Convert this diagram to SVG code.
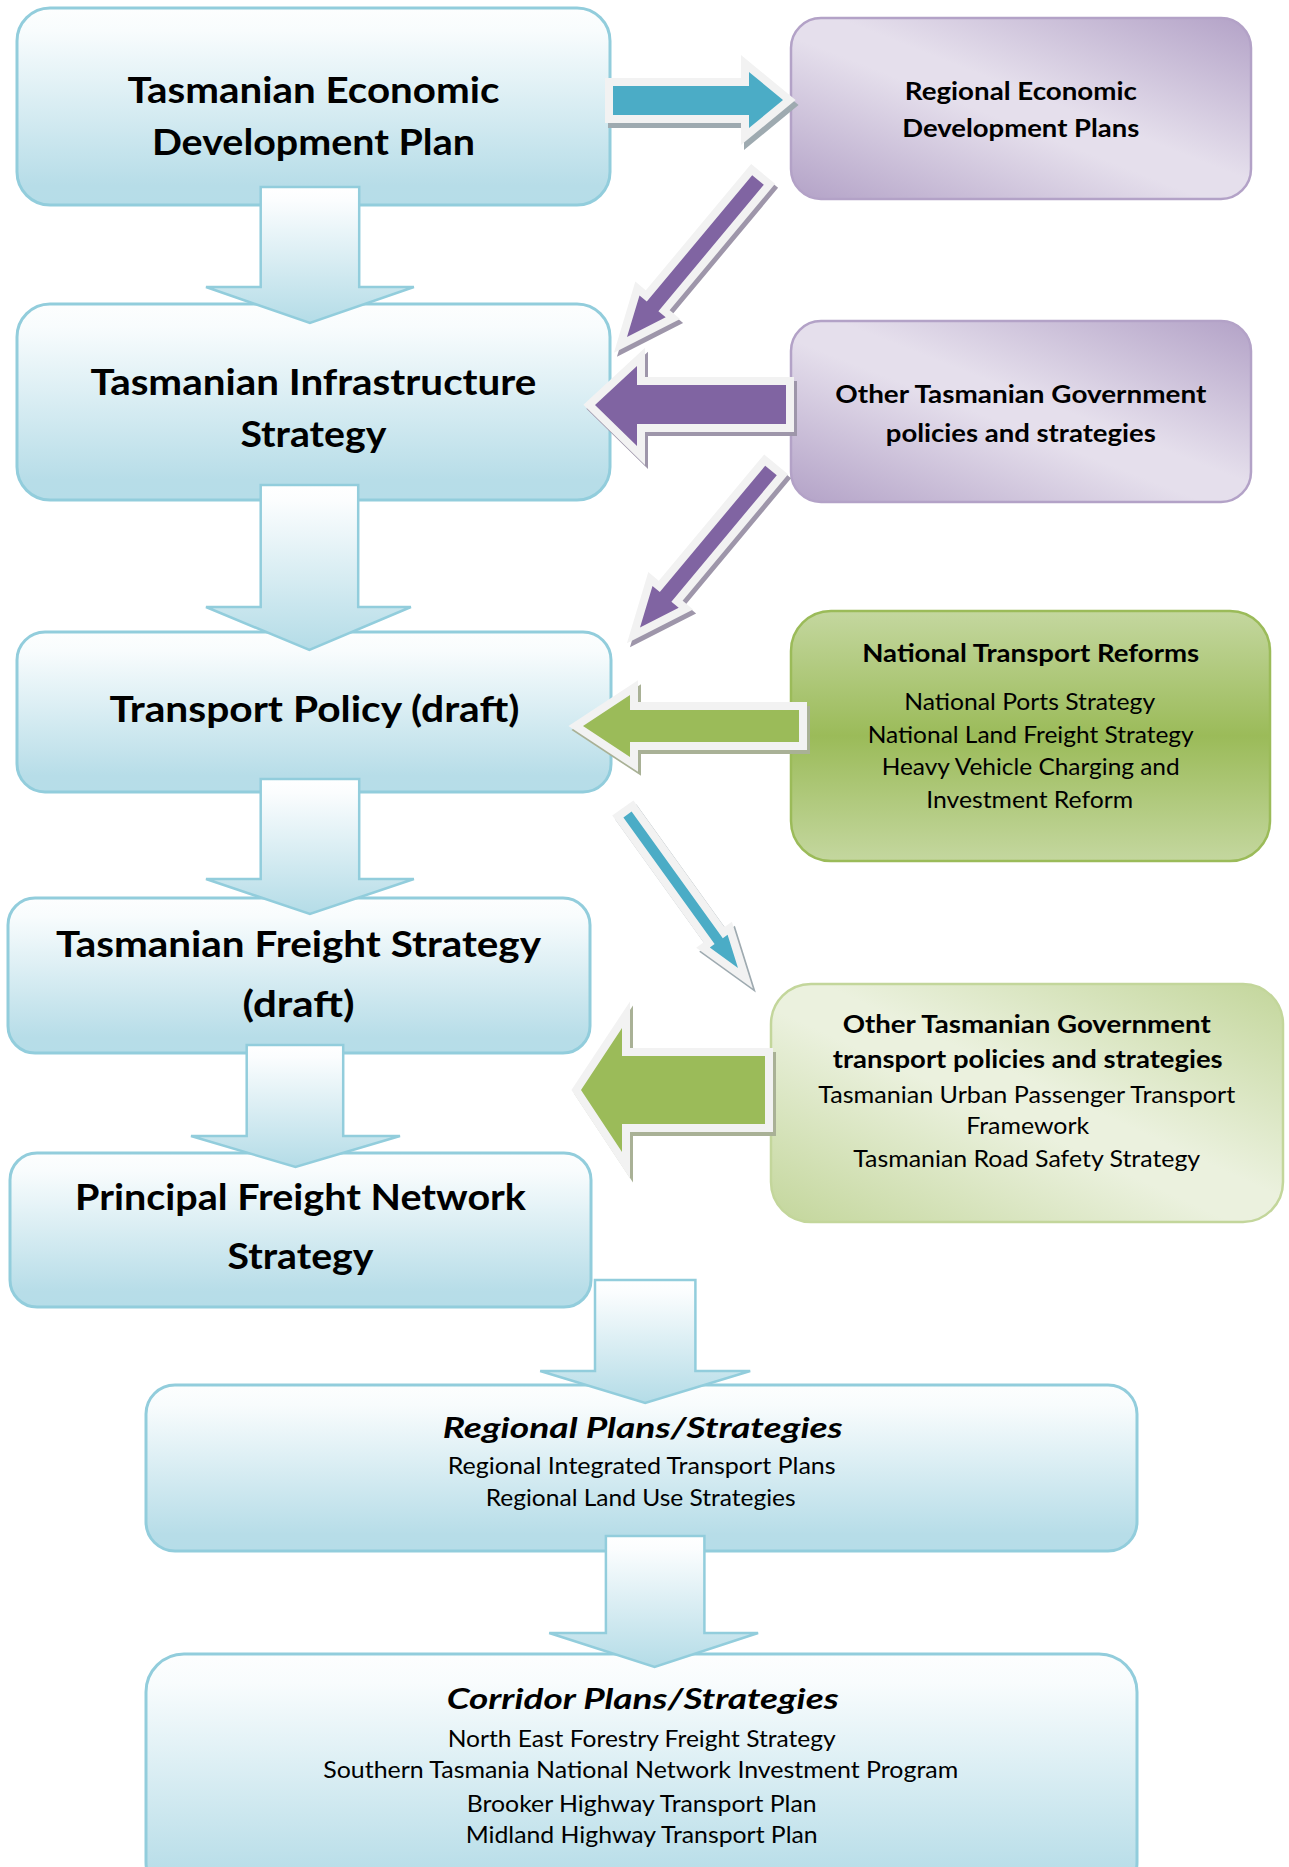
<svg xmlns="http://www.w3.org/2000/svg" width="1289" height="1867" viewBox="0 0 1289 1867">
<style>
.t{font-family:Lato,"Liberation Sans",sans-serif;fill:#000;text-anchor:middle}
.h1{font-size:36px;font-weight:bold}
.h2{font-size:25px;font-weight:bold}
.h3{font-size:28px;font-weight:bold;font-style:italic}
.h4{font-size:24px;font-weight:bold}
.r{font-size:23px}
.nb{fill:url(#gBlue);stroke:#92cddc;stroke-width:3}
.np{fill:url(#gPurple);stroke:#b3a2c7;stroke-width:2.5}
.ng1{fill:url(#gGreen1);stroke:#9bbb59;stroke-width:2.5}
.ng2{fill:url(#gGreen2);stroke:#c3d69b;stroke-width:2.5}
.da{fill:url(#gArrow);stroke:#92cddc;stroke-width:2.5}
.a3{stroke:#f2f2f2;stroke-width:16;stroke-linejoin:miter;paint-order:stroke}
.sh{stroke-width:16;stroke-linejoin:miter}
.teal{fill:#4bacc6}.purple{fill:#8064a2}.green{fill:#9bbb59}
.shT{fill:#9eaab0;stroke:#9eaab0}.shP{fill:#9e96aa;stroke:#9e96aa}.shG{fill:#a9b196;stroke:#a9b196}
</style>
<defs>
<linearGradient id="gBlue" x1="0" y1="0" x2="0" y2="1">
<stop offset="0" stop-color="#fdfefe"/><stop offset="0.12" stop-color="#f8fcfd"/><stop offset="0.9" stop-color="#b7dde8"/><stop offset="1" stop-color="#b6dde8"/>
</linearGradient>
<linearGradient id="gArrow" x1="0" y1="0" x2="0" y2="1">
<stop offset="0" stop-color="#ffffff"/><stop offset="0.1" stop-color="#fbfdfe"/><stop offset="1" stop-color="#b4dce7"/>
</linearGradient>
<linearGradient id="gPurple" x1="1" y1="0" x2="0" y2="1">
<stop offset="0" stop-color="#b3a2c7"/><stop offset="0.45" stop-color="#e5dfec"/><stop offset="0.55" stop-color="#e5dfec"/><stop offset="1" stop-color="#b3a2c7"/>
</linearGradient>
<linearGradient id="gGreen1" x1="0" y1="0" x2="0" y2="1">
<stop offset="0" stop-color="#c4d79f"/><stop offset="0.5" stop-color="#9bbb59"/><stop offset="1" stop-color="#c4d79f"/>
</linearGradient>
<linearGradient id="gGreen2" x1="1" y1="0" x2="0" y2="1">
<stop offset="0" stop-color="#c3d69b"/><stop offset="0.45" stop-color="#ebf1de"/><stop offset="0.55" stop-color="#ebf1de"/><stop offset="1" stop-color="#c3d69b"/>
</linearGradient>
<polygon id="pT1" points="613,86 749,86 749,72 783,100 749,128 749,115 613,115"/>
<polygon id="pD1" points="752.2,175.2 646.8,301.6 639.5,295.5 627,337.1 665.7,317.3 658.4,311.2 763.8,184.8"/>
<polygon id="pH1" points="786,385 637,385 637,366 595,405 637,446 637,424 786,424"/>
<polygon id="pG1" points="799,710 630,710 630,695 583,726 630,757 630,742 799,742"/>
<polygon id="pTD" points="623.4,817.4 714.6,944.1 709.8,947.6 738,968 727.6,934.8 722.8,938.3 631.6,811.6"/>
<polygon id="pG2" points="765,1056 622,1056 622,1028 581,1090 622,1152 622,1124 765,1124"/>
</defs>
<rect width="1289" height="1867" fill="#ffffff"/>

<g id="node-tedp">
<rect class="nb" x="17" y="8" width="593" height="197" rx="33"/>
<text class="t h1" x="313.4" y="103" textLength="372" lengthAdjust="spacingAndGlyphs">Tasmanian Economic</text>
<text class="t h1" x="313.4" y="155" textLength="323" lengthAdjust="spacingAndGlyphs">Development Plan</text>
</g>
<g id="node-tis">
<rect class="nb" x="17" y="304" width="593" height="196" rx="33"/>
<text class="t h1" x="313.4" y="395" textLength="446" lengthAdjust="spacingAndGlyphs">Tasmanian Infrastructure</text>
<text class="t h1" x="313.4" y="447" textLength="146" lengthAdjust="spacingAndGlyphs">Strategy</text>
</g>
<g id="node-tp">
<rect class="nb" x="17" y="632" width="594" height="160" rx="28"/>
<text class="t h1" x="314.4" y="722" textLength="410" lengthAdjust="spacingAndGlyphs">Transport Policy (draft)</text>
</g>
<g id="node-tfs">
<rect class="nb" x="8" y="898" width="582" height="155" rx="27"/>
<text class="t h1" x="298.5" y="957" textLength="485" lengthAdjust="spacingAndGlyphs">Tasmanian Freight Strategy</text>
<text class="t h1" x="298.5" y="1017" textLength="112" lengthAdjust="spacingAndGlyphs">(draft)</text>
</g>
<g id="node-pfns">
<rect class="nb" x="10" y="1153" width="581" height="154" rx="27"/>
<text class="t h1" x="300.5" y="1210" textLength="451" lengthAdjust="spacingAndGlyphs">Principal Freight Network</text>
<text class="t h1" x="300.5" y="1269" textLength="146" lengthAdjust="spacingAndGlyphs">Strategy</text>
</g>
<g id="node-regional">
<rect class="nb" x="146" y="1385" width="991" height="166" rx="29"/>
<text class="t h3" x="642.7" y="1438" textLength="400" lengthAdjust="spacingAndGlyphs">Regional Plans/Strategies</text>
<text class="t r" x="641.7" y="1474" textLength="388" lengthAdjust="spacingAndGlyphs">Regional Integrated Transport Plans</text>
<text class="t r" x="640.7" y="1506" textLength="310" lengthAdjust="spacingAndGlyphs">Regional Land Use Strategies</text>
</g>
<g id="node-corridor">
<rect class="nb" x="146" y="1654" width="991" height="246" rx="38"/>
<text class="t h3" x="642.7" y="1709" textLength="392" lengthAdjust="spacingAndGlyphs">Corridor Plans/Strategies</text>
<text class="t r" x="641.7" y="1747" textLength="388" lengthAdjust="spacingAndGlyphs">North East Forestry Freight Strategy</text>
<text class="t r" x="640.7" y="1778" textLength="635" lengthAdjust="spacingAndGlyphs">Southern Tasmania National Network Investment Program</text>
<text class="t r" x="641.7" y="1812" textLength="350" lengthAdjust="spacingAndGlyphs">Brooker Highway Transport Plan</text>
<text class="t r" x="641.7" y="1843" textLength="352" lengthAdjust="spacingAndGlyphs">Midland Highway Transport Plan</text>
</g>
<g id="node-redp">
<rect class="np" x="791" y="18" width="460" height="181" rx="30"/>
<text class="t h4" x="1020.8" y="100" textLength="232" lengthAdjust="spacingAndGlyphs">Regional Economic</text>
<text class="t h4" x="1020.8" y="137" textLength="237" lengthAdjust="spacingAndGlyphs">Development Plans</text>
</g>
<g id="node-otgps">
<rect class="np" x="791" y="321" width="460" height="181" rx="30"/>
<text class="t h2" x="1020.8" y="403" textLength="371" lengthAdjust="spacingAndGlyphs">Other Tasmanian Government</text>
<text class="t h2" x="1020.8" y="442" textLength="270" lengthAdjust="spacingAndGlyphs">policies and strategies</text>
</g>
<g id="node-ntr">
<rect class="ng1" x="791" y="611" width="479" height="250" rx="40"/>
<text class="t h2" x="1030.7" y="662" textLength="337" lengthAdjust="spacingAndGlyphs">National Transport Reforms</text>
<text class="t r" x="1029.7" y="710" textLength="251" lengthAdjust="spacingAndGlyphs">National Ports Strategy</text>
<text class="t r" x="1030.7" y="743" textLength="326" lengthAdjust="spacingAndGlyphs">National Land Freight Strategy</text>
<text class="t r" x="1030.7" y="775" textLength="298" lengthAdjust="spacingAndGlyphs">Heavy Vehicle Charging and</text>
<text class="t r" x="1029.7" y="808" textLength="207" lengthAdjust="spacingAndGlyphs">Investment Reform</text>
</g>
<g id="node-otgtps">
<rect class="ng2" x="771" y="984" width="512" height="238" rx="40"/>
<text class="t h2" x="1026.7" y="1033" textLength="368" lengthAdjust="spacingAndGlyphs">Other Tasmanian Government</text>
<text class="t h2" x="1027.7" y="1068" textLength="390" lengthAdjust="spacingAndGlyphs">transport policies and strategies</text>
<text class="t r" x="1026.7" y="1103" textLength="417" lengthAdjust="spacingAndGlyphs">Tasmanian Urban Passenger Transport</text>
<text class="t r" x="1027.7" y="1134" textLength="123" lengthAdjust="spacingAndGlyphs">Framework</text>
<text class="t r" x="1026.7" y="1167" textLength="347" lengthAdjust="spacingAndGlyphs">Tasmanian Road Safety Strategy</text>
</g>

<g id="connectors">
<polygon class="da" points="260.7,187 359.2,187 359.2,287 413.9,287 309.9,323 206,287 260.7,287"/>
<polygon class="da" points="260.7,485 358.2,485 358.2,607 410.9,607 309.4,650 206,607 260.7,607"/>
<polygon class="da" points="260.7,779 359.2,779 359.2,879 413.9,879 309.9,914 206,879 260.7,879"/>
<polygon class="da" points="246.7,1045 343.2,1045 343.2,1136 400,1136 295.5,1167 191,1136 246.7,1136"/>
<polygon class="da" points="595,1280 695.4,1280 695.4,1371 750.2,1371 645.2,1403 540.2,1371 595,1371"/>
<polygon class="da" points="605.9,1536 704.4,1536 704.4,1633 758.1,1633 654.6,1667 549.2,1633 605.9,1633"/>

<use href="#pT1" class="sh shT" transform="translate(3,5)"/>
<use href="#pT1" class="a3 teal"/>

<use href="#pD1" class="sh shP" transform="translate(3,4)"/>
<use href="#pD1" class="a3 purple"/>

<use href="#pH1" class="sh shP" transform="translate(3,4)"/>
<use href="#pH1" class="a3 purple"/>

<use href="#pD1" class="sh shP" transform="translate(16,294.5)"/>
<use href="#pD1" class="a3 purple" transform="translate(13,290.5)"/>

<use href="#pG1" class="sh shG" transform="translate(3,4)"/>
<use href="#pG1" class="a3 green"/>

<use href="#pTD" class="sh shT" transform="translate(3,4)"/>
<use href="#pTD" class="a3 teal"/>

<use href="#pG2" class="sh shG" transform="translate(3,4)"/>
<use href="#pG2" class="a3 green"/>
</g>
</svg>
